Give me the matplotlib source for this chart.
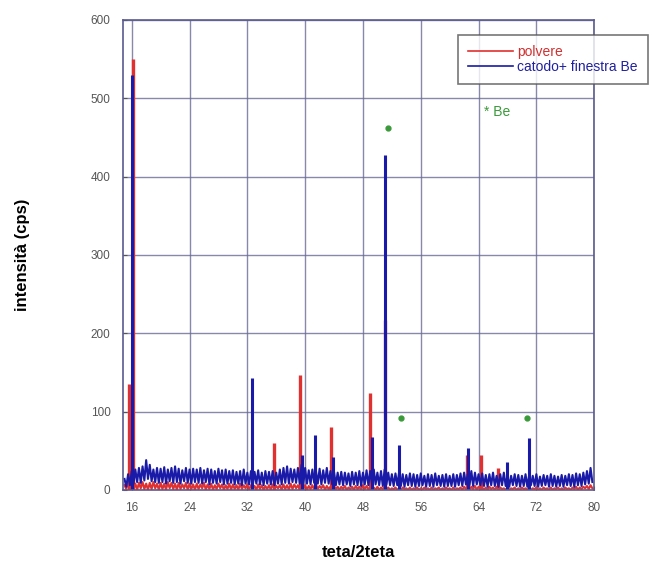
import numpy as np
import matplotlib
matplotlib.use("Agg")
import matplotlib.pyplot as plt

plt.rcParams['font.family'] = ['Liberation Sans', 'DejaVu Sans']

# ---- data ----
scan_start = 15.0
scan_step = 0.5   # each step holds one high and one low noise sample

blue_hi = [
    14, 20, 24, 26, 28, 30, 38, 32, 26, 28,
    27, 29, 26, 28, 30, 27, 25, 28, 26, 27,
    26, 28, 25, 27, 26, 24, 27, 25, 26, 24,
    25, 23, 24, 26, 22, 24, 23, 25, 22, 24,
    23, 24, 22, 26, 28, 30, 27, 26, 28, 32,
    28, 25, 26, 24, 27, 25, 28, 24, 23, 22,
    23, 22, 21, 23, 22, 24, 22, 25, 24, 26,
    22, 24, 26, 22, 20, 21, 22, 20, 19, 21,
    20, 19, 21, 18, 20, 19, 21, 18, 19, 20,
    18, 20, 19, 21, 22, 20, 24, 22, 20, 21,
    19, 20, 22, 18, 20, 22, 19, 18, 20, 19,
    18, 20, 19, 18, 20, 17, 19, 18, 20, 18,
    17, 19, 18, 20, 19, 21, 20, 22, 24, 28,
]
blue_lo = [
    4, 6, 8, 10, 9, 12, 14, 11, 10, 9,
    10, 8, 11, 9, 10, 8, 11, 9, 8, 10,
    9, 8, 10, 7, 9, 8, 10, 7, 8, 9,
    7, 8, 6, 8, 7, 6, 8, 7, 6, 8,
    7, 6, 8, 7, 9, 8, 10, 9, 8, 7,
    8, 7, 9, 8, 7, 9, 8, 7, 6, 7,
    6, 7, 5, 7, 6, 5, 7, 6, 8, 7,
    6, 5, 7, 6, 5, 6, 5, 4, 6, 5,
    4, 5, 6, 4, 5, 4, 6, 5, 4, 5,
    5, 4, 6, 5, 7, 6, 5, 7, 6, 5,
    4, 6, 5, 4, 6, 5, 4, 6, 5, 4,
    5, 4, 6, 5, 4, 5, 6, 4, 5, 4,
    5, 4, 6, 5, 4, 6, 5, 7, 8, 10,
]
blue_peak_x = [16.1, 32.6, 39.6, 41.4, 43.8, 49.2, 51.0, 53.0, 62.5, 67.9, 71.0]
blue_peak_h = [530, 143, 45, 70, 42, 68, 428, 57, 54, 36, 66]

red_hi = [
    6, 10, 12, 8, 9, 10, 8, 9, 10, 8,
    9, 8, 10, 9, 8, 9, 7, 9, 8, 7,
    8, 7, 9, 7, 8, 6, 8, 7, 6, 8,
    7, 6, 8, 6, 7, 6, 5, 7, 6, 5,
    6, 7, 5, 6, 7, 6, 8, 7, 6, 5,
    6, 5, 6, 7, 5, 6, 5, 4, 5, 4,
    4, 5, 3, 4, 5, 4, 6, 5, 4, 3,
    4, 3, 4, 3, 2, 3, 2, 3, 2, 3,
    2, 3, 2, 3, 2, 3, 2, 3, 2, 3,
    2, 3, 2, 3, 4, 3, 4, 5, 4, 3,
    3, 4, 3, 4, 3, 2, 3, 2, 3, 2,
    3, 2, 3, 2, 3, 2, 3, 2, 3, 2,
    3, 2, 3, 2, 3, 4, 3, 4, 5, 6,
]
red_lo = [
    1, 2, 1, 0, 2, 1, 0, 1, 2, 0,
    1, 0, 2, 1, 0, 1, 2, 0, 1, 0,
    1, 2, 0, 1, 0, 1, 2, 0, 1, 0,
    1, 0, 1, 2, 0, 1, 0, 1, 0, 1,
    0, 1, 2, 0, 1, 0, 1, 2, 0, 1,
    0, 1, 0, 1, 2, 0, 1, 0, 1, 0,
    1, 0, 1, 0, 1, 0, 1, 0, 1, 0,
    0, 1, 0, 0, 1, 0, 0, 1, 0, 0,
    1, 0, 0, 1, 0, 0, 1, 0, 0, 1,
    0, 0, 1, 0, 1, 0, 1, 0, 1, 0,
    0, 1, 0, 0, 1, 0, 0, 1, 0, 0,
    1, 0, 0, 1, 0, 0, 1, 0, 0, 1,
    0, 0, 1, 0, 1, 0, 1, 2, 1, 2,
]
red_peak_x = [15.6, 16.2, 35.75, 39.35, 43.6, 49.0, 51.05, 62.4, 64.35, 66.7]
red_peak_h = [135, 550, 60, 147, 80, 124, 217, 45, 45, 28]

be_marks_x = [51.4, 53.3, 70.7]
be_marks_y = [462, 92, 92]

x_ticks = [16, 24, 32, 40, 48, 56, 64, 72, 80]
y_ticks = [0, 100, 200, 300, 400, 500, 600]


def noise_trace(hi, lo):
    n = len(hi)
    xs = scan_start + scan_step * np.arange(2 * n) / 2.0
    ys = np.empty(2 * n)
    ys[0::2] = hi
    ys[1::2] = lo
    return xs, ys


rx, ry = noise_trace(red_hi, red_lo)
bx, by = noise_trace(blue_hi, blue_lo)

fig = plt.figure(figsize=(6.58, 5.67), dpi=100)
ax = fig.add_axes([0.187, 0.136, 0.716, 0.829])

grid_c = "#6a6a98"
ax.grid(True, color=grid_c, linewidth=1.0, alpha=0.8)
ax.set_axisbelow(True)

red_c = "#e03030"
blue_c = "#1a1aa8"
ax.plot(rx, ry, color=red_c, linewidth=1.5, label="polvere")
ax.vlines(red_peak_x, 0, red_peak_h, color=red_c, linewidth=2.4)
ax.plot(bx, by, color=blue_c, linewidth=1.5, label="catodo+ finestra Be")
ax.vlines(blue_peak_x, 0, blue_peak_h, color=blue_c, linewidth=2.2)

ax.plot(be_marks_x, be_marks_y, linestyle="none", marker="o", markersize=3.5,
        color="#3a9a3a")
ax.text(64.8, 483, "* Be", color="#3a9a3a", fontsize=10, va="center")

ax.set_xlim(14.8, 80.0)
ax.set_ylim(0, 600)
ax.set_xticks(x_ticks)
ax.set_yticks(y_ticks)
ax.tick_params(labelsize=8.5, colors="#555555", length=3, direction="in", pad=9)
for s in ax.spines.values():
    s.set_color("#5a5a90")
    s.set_linewidth(1.2)

ax.set_xlabel("teta/2teta", fontsize=12, fontweight="bold", labelpad=22)
ax.set_ylabel("intensità (cps)", fontsize=12, fontweight="bold", labelpad=44)

leg = ax.legend(loc="upper left", bbox_to_anchor=(0.711, 0.968), fontsize=10,
                frameon=True, fancybox=False, borderaxespad=0.0,
                handlelength=3.2, handletextpad=0.3, labelspacing=0.05,
                borderpad=0.75)
leg.get_frame().set_edgecolor("#555555")
leg.get_frame().set_linewidth(1.2)
for t, c in zip(leg.get_texts(), ["#d03030", "#2020a0"]):
    t.set_color(c)
for h in leg.get_lines():
    h.set_linewidth(1.2)

fig.savefig("out.png", dpi=100)
